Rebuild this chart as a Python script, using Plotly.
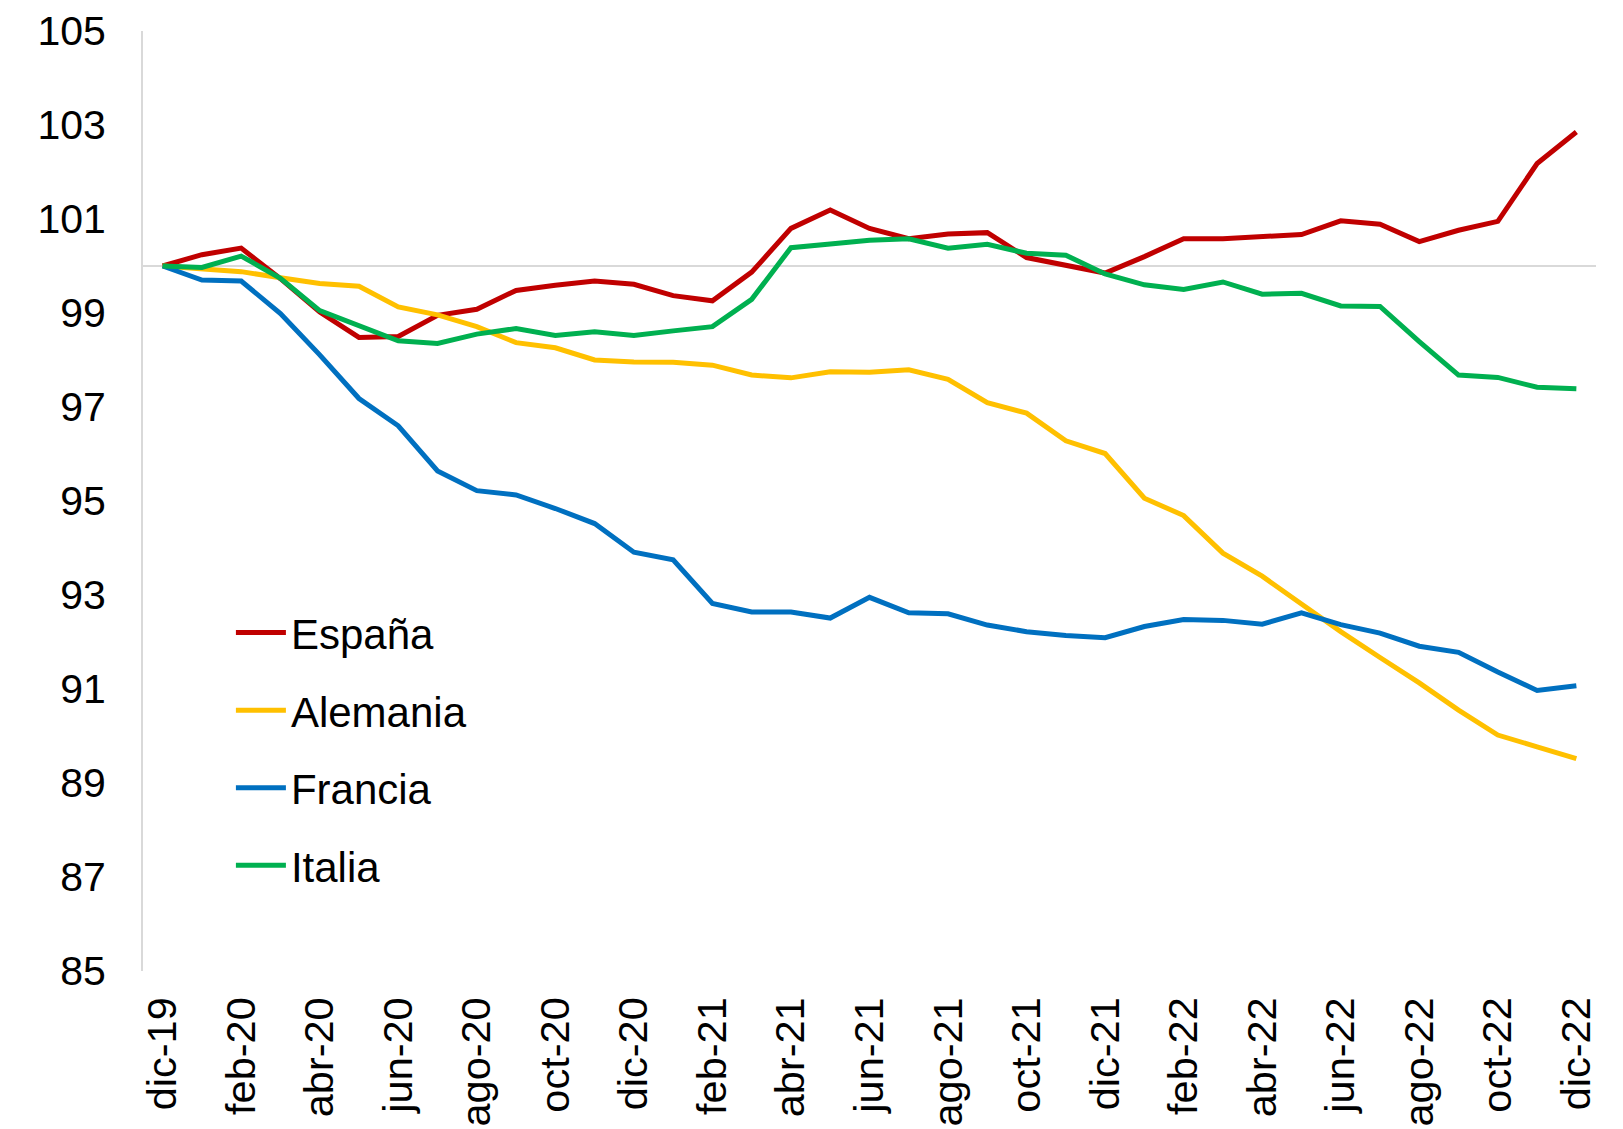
import plotly.graph_objects as go

months = ["dic-19", "ene-20", "feb-20", "mar-20", "abr-20", "may-20", "jun-20", "jul-20",
          "ago-20", "sep-20", "oct-20", "nov-20", "dic-20", "ene-21", "feb-21", "mar-21",
          "abr-21", "may-21", "jun-21", "jul-21", "ago-21", "sep-21", "oct-21", "nov-21",
          "dic-21", "ene-22", "feb-22", "mar-22", "abr-22", "may-22", "jun-22", "jul-22",
          "ago-22", "sep-22", "oct-22", "nov-22", "dic-22"]

espana = [100, 100.24, 100.38, 99.73, 99.02, 98.48, 98.50, 98.95, 99.08, 99.48, 99.59, 99.68,
          99.61, 99.37, 99.26, 99.87, 100.80, 101.19, 100.80, 100.58, 100.68, 100.71, 100.18,
          100.01, 99.85, 100.20, 100.58, 100.58, 100.62, 100.67, 100.96, 100.89, 100.52,
          100.76, 100.95, 102.18, 102.85]

alemania = [100, 99.93, 99.88, 99.75, 99.63, 99.57, 99.13, 98.96, 98.71, 98.37, 98.26, 98.00,
            97.96, 97.95, 97.89, 97.68, 97.62, 97.75, 97.74, 97.79, 97.59, 97.09, 96.87, 96.28,
            96.01, 95.06, 94.69, 93.89, 93.40, 92.81, 92.22, 91.67, 91.13, 90.55, 90.02,
            89.77, 89.52]

francia = [100, 99.70, 99.68, 98.99, 98.11, 97.18, 96.60, 95.64, 95.22, 95.13, 94.84, 94.52,
           93.91, 93.75, 92.82, 92.64, 92.64, 92.51, 92.95, 92.62, 92.60, 92.36, 92.22, 92.14,
           92.09, 92.33, 92.48, 92.46, 92.38, 92.62, 92.37, 92.19, 91.91, 91.78, 91.36,
           90.97, 91.07]

italia = [100, 99.97, 100.21, 99.74, 99.05, 98.74, 98.41, 98.35, 98.55, 98.67, 98.52, 98.60,
          98.52, 98.62, 98.71, 99.29, 100.39, 100.47, 100.55, 100.58, 100.38, 100.46, 100.27,
          100.23, 99.83, 99.60, 99.50, 99.66, 99.40, 99.42, 99.15, 99.14, 98.39, 97.68,
          97.63, 97.42, 97.39]

y_ticks = [85, 87, 89, 91, 93, 95, 97, 99, 101, 103, 105]

series = [
    ("España", espana, "#C00000"),
    ("Alemania", alemania, "#FFC000"),
    ("Francia", francia, "#0070C0"),
    ("Italia", italia, "#00B050"),
]

FONT = "Liberation Sans, Arial, sans-serif"

fig = go.Figure()
for i, (name, vals, color) in enumerate(series):
    fig.add_trace(go.Scatter(
        x=months, y=vals, name=name, mode="lines",
        line=dict(color=color, width=5),
        legendgroup=f"g{i}",
    ))

fig.add_hline(y=100, line=dict(color="#D9D9D9", width=2), layer="below")

fig.update_layout(
    width=1615, height=1121,
    paper_bgcolor="white", plot_bgcolor="white",
    margin=dict(l=135, r=27, t=23, b=158, autoexpand=False),
    font=dict(family=FONT, color="black", size=41),
    showlegend=True,
    legend=dict(
        x=0.0605, y=0.396, xanchor="left", yanchor="top",
        bgcolor="rgba(0,0,0,0)",
        font=dict(size=42, family=FONT, color="black"),
        tracegroupgap=20,
        itemwidth=50,
    ),
)

fig.update_xaxes(
    type="category",
    range=[-0.5, 36.5],
    tickmode="array",
    tickvals=months[::2],
    ticktext=months[::2],
    tickangle=-90,
    tickfont=dict(size=41.5, family=FONT, color="black"),
    showgrid=False, showline=False, zeroline=False,
    ticks="", ticklabelstandoff=17, automargin=False,
)

fig.update_yaxes(
    range=[85, 105],
    tickmode="array",
    tickvals=y_ticks,
    ticktext=[str(v) for v in y_ticks],
    tickfont=dict(size=41, family=FONT, color="black"),
    showgrid=False, zeroline=False,
    showline=True, linecolor="#D9D9D9", linewidth=2,
    ticks="", ticklabelstandoff=27, automargin=False,
)

fig.write_html("out.html")
